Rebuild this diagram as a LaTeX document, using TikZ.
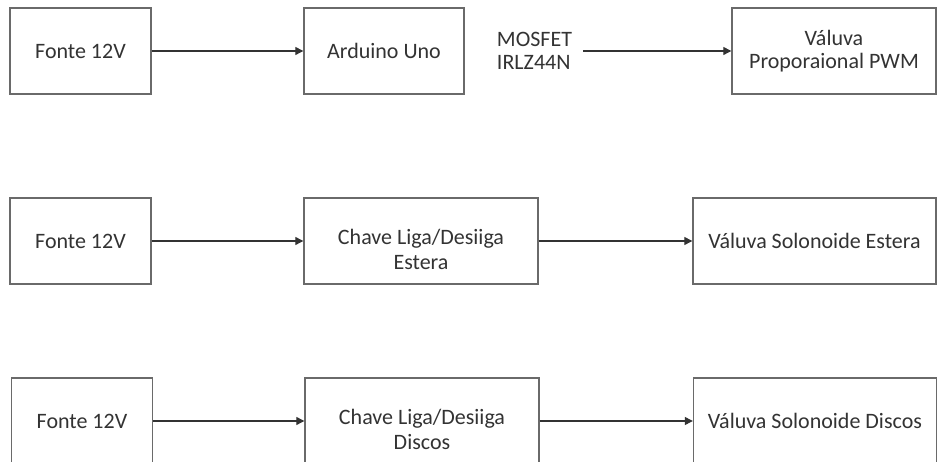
\documentclass[tikz,border=0pt]{standalone}
\usepackage{fontspec}
\setmainfont{Carlito}
\usetikzlibrary{arrows.meta}
\definecolor{boxline}{HTML}{6A6A6A}
\definecolor{txt}{HTML}{333333}
\tikzset{
  blk/.style={draw=boxline, line width=1.4pt, fill=white, minimum height=86pt, inner sep=0pt, align=center, text=txt, font=\fontsize{22}{23}\selectfont},
  plain/.style={inner sep=0pt, align=left, text=txt, font=\fontsize{22}{23}\selectfont},
  conn/.style={draw=black!80, line width=1.2pt, -{Triangle[length=8pt,width=8pt]}}
}
\begin{document}
\begin{tikzpicture}[x=1pt,y=1pt]
\useasboundingbox (0,0) rectangle (939,462);
\fill[white] (0,0) rectangle (939,462);
% row 1
\node[blk, minimum width=141pt] (f1) at (80.5,411) {Fonte 12V};
\node[blk, minimum width=160pt] (ard) at (384,411) {Arduino Uno};
\node[plain] (mos) at (534.5,411) {MOSFET\\IRLZ44N};
\node[blk, minimum width=204pt] (vp) at (834,411) {Váluva\\Proporaional PWM};
\draw[conn] (f1) -- (ard);
\draw[conn, shorten <=11pt] (mos) -- (vp);
% row 2
\node[blk, minimum width=141pt] (f2) at (80.5,221) {Fonte 12V};
\node[blk, minimum width=234pt] (ch1) at (421,221) {\raisebox{-17pt}[0pt][0pt]{\begin{tabular}{@{}c@{}}Chave Liga/Desiiga\\[2pt]Estera\end{tabular}}};
\node[blk, minimum width=243pt] (vs1) at (814.5,221) {Váluva Solonoide Estera};
\draw[conn] (f2) -- (ch1);
\draw[conn] (ch1) -- (vs1);
% row 3
\node[blk, minimum width=141pt] (f3) at (82,41) {Fonte 12V};
\node[blk, minimum width=234pt] (ch2) at (422,41) {\raisebox{-17pt}[0pt][0pt]{\begin{tabular}{@{}c@{}}Chave Liga/Desiiga\\[2pt]Discos\end{tabular}}};
\node[blk, minimum width=243pt] (vs2) at (815,41) {Váluva Solonoide Discos};
\draw[conn] (f3) -- (ch2);
\draw[conn] (ch2) -- (vs2);
\end{tikzpicture}
\end{document}
